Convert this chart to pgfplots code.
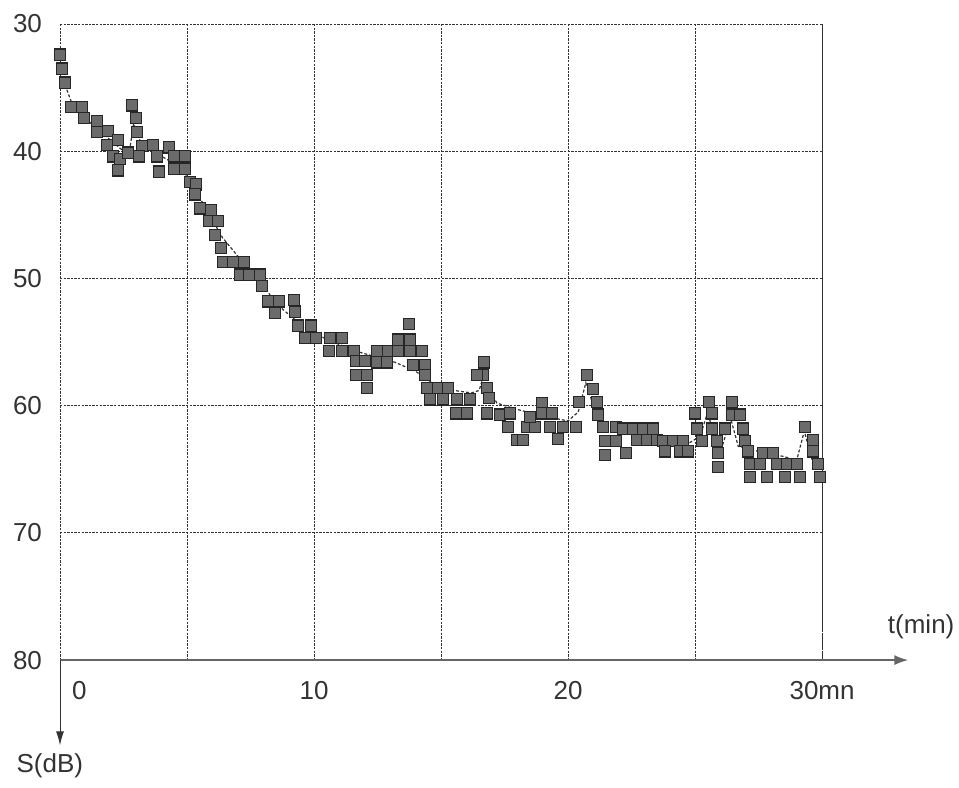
\documentclass[border=0pt]{standalone}
\usepackage{fontspec}
\setmainfont{Liberation Sans}
\usepackage{pgfplots}
\pgfplotsset{compat=1.18}
\usetikzlibrary{arrows.meta}

\definecolor{ink}{gray}{0.2}

\begin{document}
\begin{tikzpicture}
\begin{axis}[
  scale only axis,
  width=381pt, height=318pt,
  xmin=0, xmax=30,
  ymin=30, ymax=80,
  y dir=reverse,
  clip=false,
  axis line style={draw=ink, line width=0.5pt, dash pattern=on 1.2pt off 0.6pt},
  grid=major,
  xtick={0,5,...,30},
  ytick={30,40,...,80},
  xticklabels={\makebox[0pt][l]{\hspace{6pt}0},,10,,20,,30mn},
  major tick length=0pt,
  major grid style={draw=ink, line width=0.5pt, dash pattern=on 1.2pt off 0.6pt},
  tick label style={font=\fontsize{13}{15}\selectfont, text=ink},
  xticklabel style={yshift=-7pt},
  yticklabel style={xshift=-5.5pt},
  /pgf/number format/assume math mode=true,
]

% raw attenuation readings
\addplot[only marks, mark=square*, mark size=2.8pt,
  mark options={draw=black!85, fill=black!58, line width=0.6pt}]
  table {
t S
0.00 32.4
0.08 33.5
0.20 34.6
0.43 36.5
0.87 36.5
0.94 37.4
1.46 37.6
1.46 38.5
1.90 38.4
1.85 39.5
2.28 39.1
2.09 40.4
2.36 40.6
2.28 41.5
2.68 40.1
2.83 36.4
3.00 37.4
3.03 38.5
3.23 39.6
3.11 40.4
3.66 39.5
3.82 40.4
3.90 41.6
4.29 39.7
4.49 40.4
4.92 40.4
4.49 41.4
4.92 41.4
5.12 42.4
5.35 42.6
5.31 43.4
5.51 44.5
5.94 44.6
5.87 45.5
6.22 45.5
6.10 46.6
6.34 47.6
6.42 48.7
6.81 48.7
7.24 48.7
7.09 49.7
7.44 49.7
7.87 49.7
7.95 50.6
8.19 51.8
8.62 51.8
9.21 51.7
8.46 52.7
9.25 52.6
9.37 53.7
9.88 53.7
9.65 54.7
10.08 54.7
10.63 54.7
11.10 54.7
10.59 55.7
11.10 55.7
11.57 55.7
11.65 56.5
12.00 56.5
11.65 57.6
12.09 57.6
12.09 58.6
12.48 55.7
12.91 55.7
12.48 56.6
12.87 56.6
13.31 55.7
13.31 54.8
13.78 54.8
13.74 53.6
13.78 55.7
14.25 55.7
13.90 56.8
14.37 56.8
14.37 57.6
14.45 58.6
14.88 58.6
15.28 58.6
14.57 59.5
15.08 59.5
15.63 59.5
16.14 59.5
15.59 60.6
16.02 60.6
16.69 56.6
16.65 57.6
16.42 57.6
16.81 58.6
16.89 59.4
16.81 60.6
17.32 60.7
17.64 61.7
17.72 60.6
17.99 62.7
18.23 62.7
18.39 61.7
18.70 61.7
18.50 60.9
18.98 59.8
18.98 60.6
19.37 60.6
19.29 61.7
19.80 61.7
20.31 61.7
19.60 62.6
20.43 59.7
20.75 57.6
20.98 58.7
21.14 59.7
21.18 60.7
21.38 61.7
21.46 62.8
21.46 63.9
21.89 62.8
21.89 61.7
22.28 63.7
22.17 61.8
22.56 61.8
22.95 61.8
23.35 61.8
22.72 62.7
23.11 62.7
23.50 62.7
23.74 62.8
24.13 62.8
24.53 62.8
23.82 63.6
24.41 63.6
24.72 63.6
25.00 60.6
25.08 61.8
25.28 62.8
25.55 59.7
25.67 60.6
25.67 61.8
25.87 62.8
25.91 63.7
25.91 64.8
26.18 61.8
26.46 59.7
26.46 60.7
26.77 60.7
26.89 61.8
26.97 62.8
27.09 63.6
27.17 64.6
27.17 65.6
27.56 64.6
27.68 63.7
27.83 65.6
28.07 63.7
28.23 64.6
28.62 64.6
28.54 65.6
29.02 64.6
29.13 65.6
29.33 61.7
29.65 62.7
29.65 63.6
29.84 64.6
29.92 65.6
};

% smoothed trend through the readings
\addplot[draw=black!80, line width=0.6pt, dash pattern=on 1.5pt off 1pt]
  table {
t S
0.2 34.8
0.5 36.4
1.0 37.4
1.6 38.5
2.1 39.3
2.5 40.0
2.75 39.8
2.9 37.8
3.1 39.0
3.4 39.8
4.0 40.4
4.7 41.2
5.2 42.6
5.6 44.0
6.0 45.4
6.4 46.8
6.9 48.0
7.4 49.3
7.9 50.2
8.3 51.4
8.7 52.3
9.1 53.0
9.6 53.8
10.2 54.5
11.0 55.2
11.8 55.8
12.5 56.2
13.2 56.6
14.0 57.3
14.8 58.4
15.5 58.8
16.2 59.0
16.5 58.8
16.7 57.5
16.9 58.8
17.2 59.8
18.0 60.3
19.0 60.8
20.0 61.2
20.4 60.5
20.7 58.2
21.0 60.0
21.3 61.5
22.0 61.9
23.0 62.3
24.0 62.6
24.8 62.9
25.2 62.4
25.5 60.5
25.8 62.8
26.1 63.0
26.4 61.0
26.7 63.2
27.5 63.6
28.5 64.0
29.0 64.3
29.3 62.0
29.6 64.2
29.9 64.8
};

% axis arrows and axis names
\draw[draw=black!60, line width=1pt, -{Latex[length=7pt,width=5pt]}]
  (axis cs:0,80) -- (axis cs:33.4,80);
\draw[draw=ink, line width=0.5pt, -{Latex[length=7pt,width=4pt]}]
  (axis cs:0,80) -- (axis cs:0,86.7);
\node[text=ink, font=\fontsize{13}{15}\selectfont] at (axis cs:33.9,77.4) {t(min)};
\node[text=ink, font=\fontsize{13}{15}\selectfont] at (axis cs:-0.4,88.3) {S(dB)};

% page frame
\coordinate (frameA) at (axis cs:-2.362,28.11);
\coordinate (frameB) at (axis cs:35.39,89.98);
\end{axis}
\pgfresetboundingbox
\path[use as bounding box] (frameA) rectangle (frameB);
\end{tikzpicture}
\end{document}
